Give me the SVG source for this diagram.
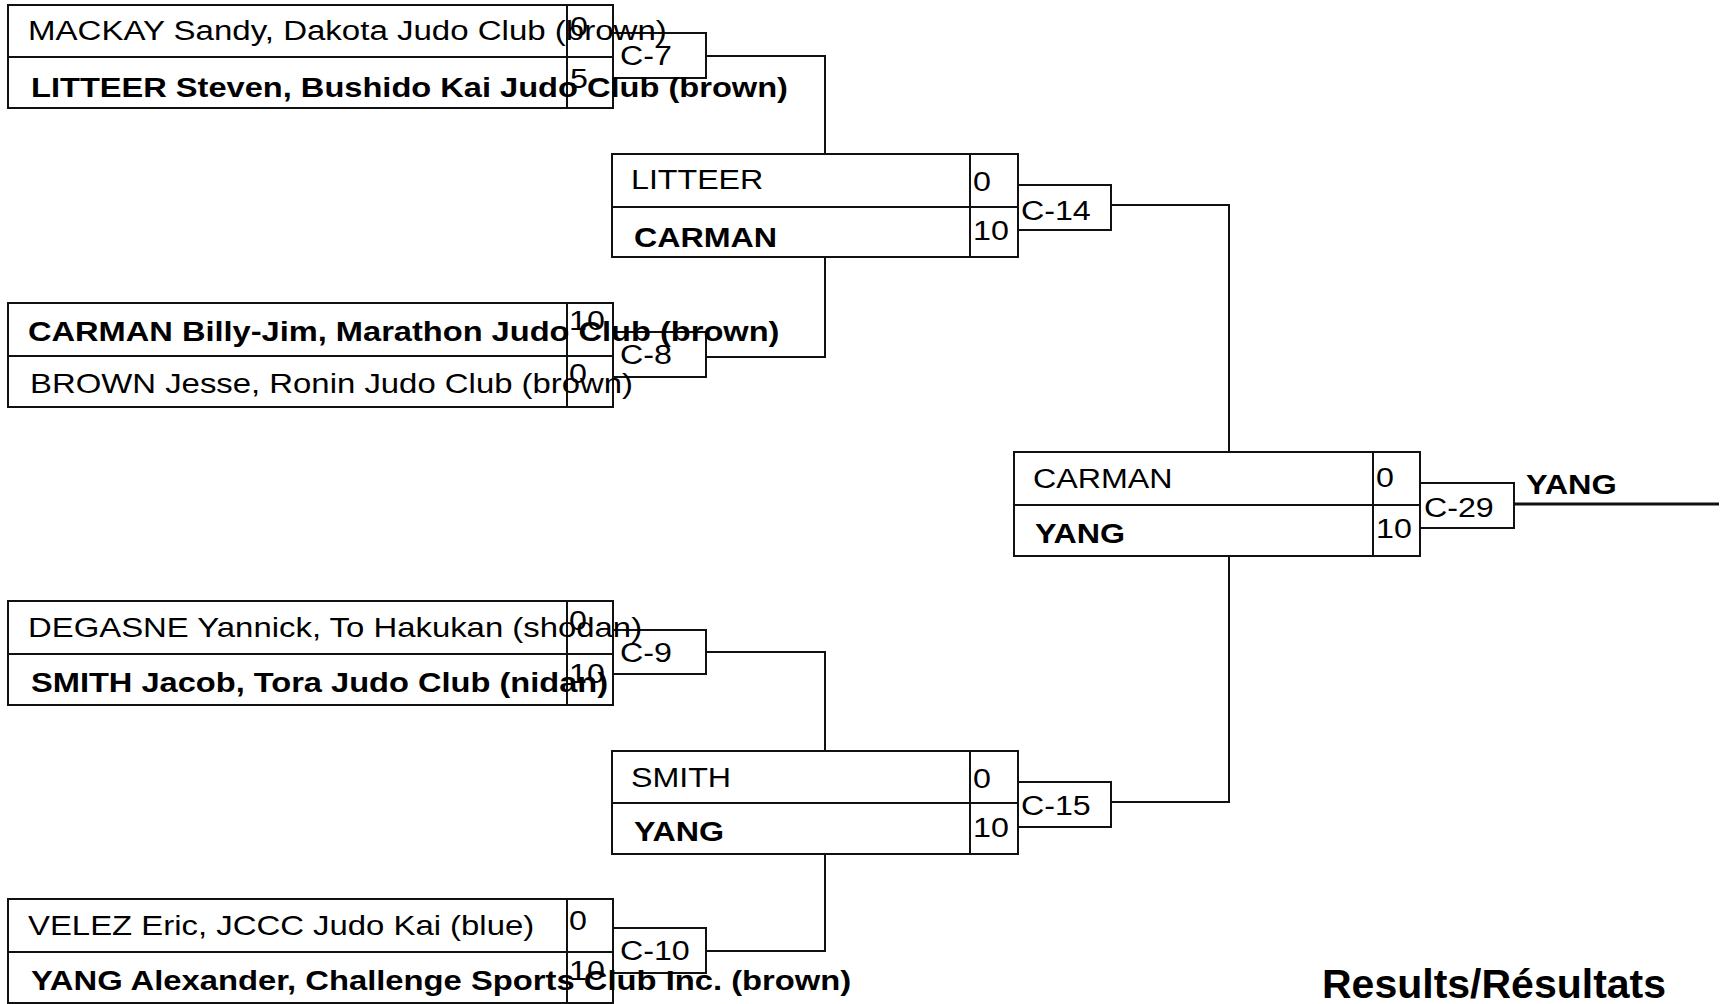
<svg xmlns="http://www.w3.org/2000/svg" width="1726" height="1004" viewBox="0 0 1726 1004">
<style>
.box{fill:none;stroke:#111;stroke-width:2}
.cb{fill:none;stroke:#111;stroke-width:2}
.ln{fill:none;stroke:#111;stroke-width:2}
text{font-family:"Liberation Sans",Arial,sans-serif;font-size:28px;fill:#000}
.b{font-weight:bold}
</style>
<rect width="1726" height="1004" fill="#fff"/>
<g id="connectors">
<polyline class="ln" points="706,56 825,56 825,154"/>
<polyline class="ln" points="706,357 825,357 825,257"/>
<polyline class="ln" points="706,652 825,652 825,751"/>
<polyline class="ln" points="706,951 825,951 825,854"/>
<polyline class="ln" points="1111,205 1229,205 1229,452"/>
<polyline class="ln" points="1111,802 1229,802 1229,556"/>
<line x1="1514" y1="504" x2="1719" y2="504" stroke="#111" stroke-width="3"/>
</g>
<g id="match-c7">
<rect class="box" x="8" y="5" width="605" height="103"/>
<line class="box" x1="8" y1="57" x2="613" y2="57"/>
<line class="box" x1="567" y1="5" x2="567" y2="108"/>
<rect class="cb" x="613" y="33" width="93" height="45"/>
<text transform="translate(28,40) scale(1.18,1)">MACKAY Sandy, Dakota Judo Club (brown)</text>
<text class="b" transform="translate(31,97) scale(1.165,1)">LITTEER Steven, Bushido Kai Judo Club (brown)</text>
<text transform="translate(570,36) scale(1.15,1)">0</text>
<text transform="translate(570,88) scale(1.15,1)">5</text>
<text transform="translate(620,65) scale(1.15,1)">C-7</text>
</g>
<g id="match-c8">
<rect class="box" x="8" y="303" width="605" height="104"/>
<line class="box" x1="8" y1="356" x2="613" y2="356"/>
<line class="box" x1="567" y1="303" x2="567" y2="407"/>
<rect class="cb" x="613" y="332" width="93" height="45"/>
<text class="b" transform="translate(28,341) scale(1.165,1)">CARMAN Billy-Jim, Marathon Judo Club (brown)</text>
<text transform="translate(30,393) scale(1.175,1)">BROWN Jesse, Ronin Judo Club (brown)</text>
<text transform="translate(569,330) scale(1.15,1)">10</text>
<text transform="translate(569,383) scale(1.15,1)">0</text>
<text transform="translate(620,364) scale(1.15,1)">C-8</text>
</g>
<g id="match-c9">
<rect class="box" x="8" y="601" width="605" height="104"/>
<line class="box" x1="8" y1="654" x2="613" y2="654"/>
<line class="box" x1="567" y1="601" x2="567" y2="705"/>
<rect class="cb" x="613" y="630" width="93" height="44"/>
<text transform="translate(28,637) scale(1.175,1)">DEGASNE Yannick, To Hakukan (shodan)</text>
<text class="b" transform="translate(31,692) scale(1.165,1)">SMITH Jacob, Tora Judo Club (nidan)</text>
<text transform="translate(569,630) scale(1.15,1)">0</text>
<text transform="translate(569,683) scale(1.15,1)">10</text>
<text transform="translate(620,662) scale(1.15,1)">C-9</text>
</g>
<g id="match-c10">
<rect class="box" x="8" y="899" width="605" height="104"/>
<line class="box" x1="8" y1="952" x2="613" y2="952"/>
<line class="box" x1="567" y1="899" x2="567" y2="1003"/>
<rect class="cb" x="613" y="928" width="93" height="45"/>
<text transform="translate(28,935) scale(1.175,1)">VELEZ Eric, JCCC Judo Kai (blue)</text>
<text class="b" transform="translate(31,990) scale(1.17,1)">YANG Alexander, Challenge Sports Club Inc. (brown)</text>
<text transform="translate(569,930) scale(1.15,1)">0</text>
<text transform="translate(569,980) scale(1.15,1)">10</text>
<text transform="translate(620,960) scale(1.15,1)">C-10</text>
</g>
<g id="match-c14">
<rect class="box" x="612" y="154" width="406" height="103"/>
<line class="box" x1="612" y1="207" x2="1018" y2="207"/>
<line class="box" x1="970" y1="154" x2="970" y2="257"/>
<rect class="cb" x="1018" y="185" width="93" height="45"/>
<text transform="translate(631,189) scale(1.15,1)">LITTEER</text>
<text class="b" transform="translate(634,247) scale(1.15,1)">CARMAN</text>
<text transform="translate(973,191) scale(1.15,1)">0</text>
<text transform="translate(973,240) scale(1.15,1)">10</text>
<text transform="translate(1021,220) scale(1.15,1)">C-14</text>
</g>
<g id="match-c15">
<rect class="box" x="612" y="751" width="406" height="103"/>
<line class="box" x1="612" y1="803" x2="1018" y2="803"/>
<line class="box" x1="970" y1="751" x2="970" y2="854"/>
<rect class="cb" x="1018" y="782" width="93" height="45"/>
<text transform="translate(631,787) scale(1.15,1)">SMITH</text>
<text class="b" transform="translate(634,841) scale(1.15,1)">YANG</text>
<text transform="translate(973,788) scale(1.15,1)">0</text>
<text transform="translate(973,837) scale(1.15,1)">10</text>
<text transform="translate(1021,815) scale(1.15,1)">C-15</text>
</g>
<g id="match-c29">
<rect class="box" x="1014" y="452" width="406" height="104"/>
<line class="box" x1="1014" y1="505" x2="1420" y2="505"/>
<line class="box" x1="1373" y1="452" x2="1373" y2="556"/>
<rect class="cb" x="1420" y="483" width="94" height="45"/>
<text transform="translate(1033,488) scale(1.15,1)">CARMAN</text>
<text class="b" transform="translate(1035,543) scale(1.15,1)">YANG</text>
<text transform="translate(1376,487) scale(1.15,1)">0</text>
<text transform="translate(1376,538) scale(1.15,1)">10</text>
<text transform="translate(1424,517) scale(1.15,1)">C-29</text>
</g>
<g id="winner">
<text class="b" transform="translate(1526,494) scale(1.16,1)">YANG</text>
</g>
<g id="title">
<text class="b" x="1322" y="998" style="font-size:41px">Results/Résultats</text>
</g>
</svg>
